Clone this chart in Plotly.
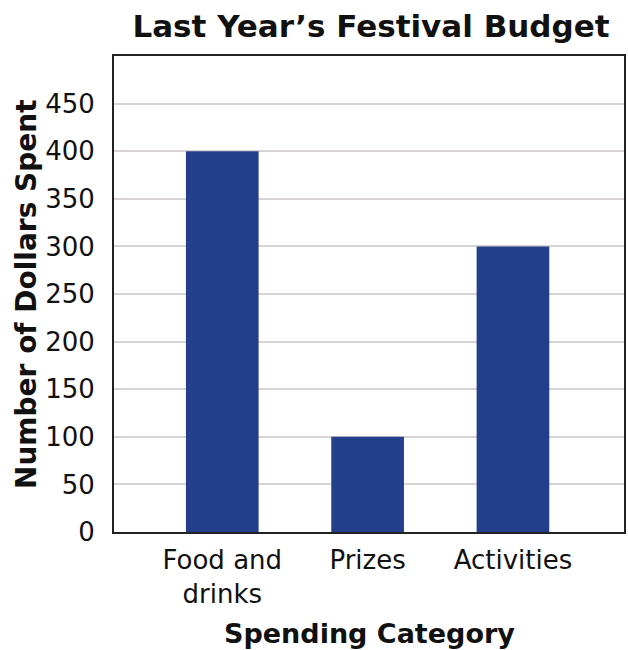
import plotly.graph_objects as go

categories = ["Food and<br>drinks", "Prizes", "Activities"]
values = [400, 100, 300]
y_ticks = [0, 50, 100, 150, 200, 250, 300, 350, 400, 450]

FONT = "DejaVu Sans"

fig = go.Figure(go.Bar(
    x=[0, 1, 2], y=values, width=0.5,
    marker=dict(color="#233f8c", line=dict(width=0)),
    hoverinfo="skip",
))

fig.update_layout(
    width=628, height=650,
    margin=dict(l=114, r=2, t=56, b=118),
    paper_bgcolor="white", plot_bgcolor="white",
    showlegend=False,
    font=dict(family=FONT, color="#111"),
    title=dict(text="<b>Last Year’s Festival Budget</b>", x=371/628, xanchor="center",
               y=1 - 26/650, yanchor="middle", yref="container",
               font=dict(size=31, family=FONT, color="#111")),
    xaxis=dict(range=[-0.745, 2.764], tickmode="array", tickvals=[0, 1, 2], ticktext=categories,
               showgrid=False, zeroline=False, showline=True, linecolor="#222", linewidth=2,
               mirror=True, ticks="", tickfont=dict(size=26, family=FONT, color="#111"),
               ticklabelstandoff=4),
    yaxis=dict(range=[0, 500], tickmode="array", tickvals=y_ticks, ticktext=[str(v) for v in y_ticks],
               showgrid=True, gridcolor="#d8d3d3", gridwidth=1.5, zeroline=False,
               showline=True, linecolor="#222", linewidth=2, mirror=True, ticks="",
               tickfont=dict(size=26, family=FONT, color="#111"), ticklabelstandoff=12),
    annotations=[
        dict(text="<b>Number of Dollars Spent</b>", xref="paper", yref="paper", x=0, y=0.5,
             xshift=-88, xanchor="center", yanchor="middle", textangle=-90, showarrow=False,
             font=dict(size=28, family=FONT, color="#111")),
        dict(text="<b>Spending Category</b>", xref="paper", yref="paper", x=0.5, y=0,
             yshift=-101, xanchor="center", yanchor="middle", showarrow=False,
             font=dict(size=27, family=FONT, color="#111")),
    ],
)

fig.write_html("out.html", config={"displayModeBar": False},
               post_script="document.body.style.margin='0px';")
